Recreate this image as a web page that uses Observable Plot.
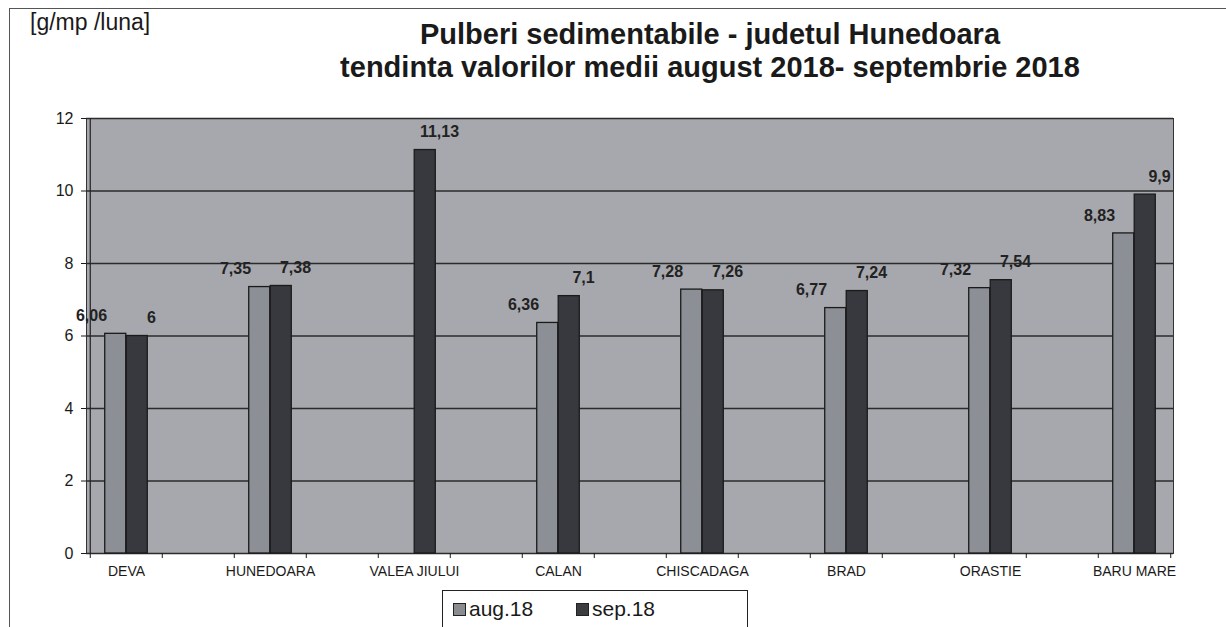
<!DOCTYPE html>
<html>
<head>
<meta charset="utf-8">
<script src="https://cdn.jsdelivr.net/npm/d3@7"></script>
<script src="https://cdn.jsdelivr.net/npm/@observablehq/plot@0.6"></script>
<style>
  html, body { margin: 0; padding: 0; background: #fff; overflow: hidden; }
  #page { position: relative; width: 1226px; height: 627px; font-family: "Liberation Sans", Arial, sans-serif; color: #1a1a1a; }
  #border { position: absolute; left: 9px; top: 8px; width: 1240px; height: 700px; border: 1px solid #555; box-sizing: border-box; }
  #unit { position: absolute; left: 30px; top: 8px; font-size: 23px; line-height: 28px; }
  #title { position: absolute; left: 310px; top: 18px; width: 800px; text-align: center; font-weight: bold; font-size: 29px; line-height: 33px; }
  #chart { position: absolute; left: 0; top: 100px; }
  #legend { position: absolute; left: 442px; top: 590px; width: 306px; height: 50px; border: 1px solid #222; box-sizing: border-box; background: #fff; font-size: 21px; }
  .item { position: absolute; top: 6px; display: flex; align-items: center; }
  .sw { width: 13px; height: 13px; border: 1px solid #222; box-sizing: border-box; margin-right: 3px; }
</style>
</head>
<body>
<div id="page">
  <div id="border"></div>
  <div id="unit">[g/mp /luna]</div>
  <div id="title">Pulberi sedimentabile - judetul Hunedoara<br>tendinta valorilor medii august 2018- septembrie 2018</div>
  <div id="chart"></div>
  <div id="legend"></div>
</div>
<script>
const categories = ["DEVA", "HUNEDOARA", "VALEA JIULUI", "CALAN", "CHISCADAGA", "BRAD", "ORASTIE", "BARU MARE"];
const aug18 = [6.06, 7.35, null, 6.36, 7.28, 6.77, 7.32, 8.83];
const sep18 = [6, 7.38, 11.13, 7.1, 7.26, 7.24, 7.54, 9.9];
const seriesNames = ["aug.18", "sep.18"];
const yTicks = [0, 2, 4, 6, 8, 10, 12];

const colors = {bg: "#a6a8ad", aug: "#8c8f96", sep: "#38393e", grid: "#2b2b2b"};

// band domain: each category followed by an empty slot (category labels every other slot)
const gapKey = i => "\u200b".repeat(i + 1);
const domain = categories.flatMap((c, i) => i < categories.length - 1 ? [c, gapKey(i)] : [c]);

const augData = categories.map((c, i) => ({cat: c, value: aug18[i]})).filter(d => d.value != null);
const sepData = categories.map((c, i) => ({cat: c, value: sep18[i]})).filter(d => d.value != null);

const W = 1226, H = 480;
const mL = 86, mR = 53, mT = 18, mB = 27;
const step = (W - mL - mR) / domain.length;
const barW = 21.5;
const edge = step / 2 - barW; // outer inset
const fmt = v => String(v).replace(".", ",");

const plot = Plot.plot({
  width: W, height: H,
  marginLeft: mL, marginRight: mR, marginTop: mT, marginBottom: mB,
  style: {fontFamily: "Liberation Sans, Arial, sans-serif", color: "#1a1a1a", background: "transparent"},
  x: {domain, padding: 0, label: null},
  y: {domain: [0, 12], label: null},
  marks: [
    Plot.frame({fill: colors.bg, stroke: "#333", strokeWidth: 1}),
    Plot.ruleY(yTicks, {stroke: colors.grid, strokeWidth: 1.4}),
    Plot.barY(augData, {x: "cat", y: "value", fill: colors.aug, stroke: "#1a1a1a", strokeWidth: 1.3, insetLeft: edge, insetRight: step / 2}),
    Plot.barY(sepData, {x: "cat", y: "value", fill: colors.sep, stroke: "#1a1a1a", strokeWidth: 1.3, insetLeft: step / 2, insetRight: edge}),
    Plot.text(augData, {x: "cat", y: "value", text: d => fmt(d.value), dx: -35, dy: -18, fontWeight: "bold", fontSize: 16, fill: "#222"}),
    Plot.text(sepData, {x: "cat", y: "value", text: d => fmt(d.value), dx: 25, dy: -18, fontWeight: "bold", fontSize: 16, fill: "#222"}),
    Plot.axisY({ticks: yTicks, tickSize: 5, tickPadding: 8, fontSize: 16, label: null}),
    Plot.ruleX([domain[0]], {dx: -step / 2, stroke: "#222", strokeWidth: 1.2}),
    Plot.axisX({ticks: categories, tickSize: 0, tickPadding: 13, fontSize: 14, label: null}),
    Plot.axisX({ticks: domain, tickSize: 5, dx: -step / 2, tickFormat: () => "", label: null}),
    Plot.axisX({ticks: [domain[domain.length - 1]], tickSize: 5, dx: step / 2, tickFormat: () => "", label: null})
  ]
});
document.getElementById("chart").appendChild(plot);

const legend = document.getElementById("legend");
const legendPos = [10, 133];
const swatchColors = ["#8a8c90", "#3c3d40"];
seriesNames.forEach((name, i) => {
  const item = document.createElement("div");
  item.className = "item";
  item.style.left = legendPos[i] + "px";
  const sw = document.createElement("div");
  sw.className = "sw";
  sw.style.background = swatchColors[i];
  const t = document.createElement("span");
  t.textContent = name;
  item.appendChild(sw);
  item.appendChild(t);
  legend.appendChild(item);
});
</script>
</body>
</html>
